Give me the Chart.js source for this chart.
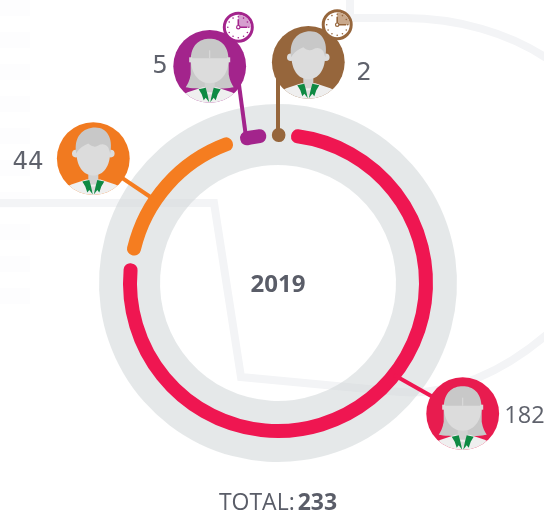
<!DOCTYPE html>
<html><head><meta charset="utf-8">
<script src="https://cdn.jsdelivr.net/npm/chart.js@4"></script>
<style>
html,body{margin:0;padding:0;background:#fff;width:544px;height:512px;overflow:hidden}
#wrap{position:relative;width:544px;height:512px;font-family:"Open Sans",sans-serif;color:#5a5d68}
canvas{position:absolute;left:0;top:0}
.t{position:absolute;transform:translate(-50%,-50%);white-space:nowrap;line-height:1}
.n{font-size:24.5px;font-weight:400;font-family:"DejaVu Sans",sans-serif;color:#5f626c}
b{font-weight:700}
</style></head><body>
<div id="wrap"><canvas id="c" width="544" height="512"></canvas></div>
<script>
// ---- data ----
const categories = ["Women (on time)", "Men", "Women (part time)", "Men (part time)"];
const seriesValues = [182, 44, 5, 2];
const centerLabel = "2019";
const totalLabel = "TOTAL:";
// ---- styling ----
const sliceColors = ["#EF1651", "#F57D20", "#A3248C", "#96663C"];
const sweepShifts = [-5.5, -3.5, 5.6, 3.4];   // degrees: small slices widened so they stay visible
const leaderAngles = [128.4, 304, 347.6, 0];
const avatars = [
  {x:462.7,y:413.7,hair:"long",fill:"#E81C4F"},
  {x:93.3,y:158.6,hair:"short",fill:"#F17A20"},
  {x:209.7,y:66.3,hair:"long",fill:"#A3248C",clock:{x:238.3,y:27.2,tint:"#D69FCF"}},
  {x:308.3,y:62.3,hair:"short",fill:"#96663C",clock:{x:337.2,y:24.7,tint:"#C9A98C"}}
];
const labelSpots = [[524.5,415],[28,161],[160,65],[364,72]];
const sliceTrim = 4.1;

const D2R = Math.PI/180;
class RingController extends Chart.DoughnutController {
  static id = "ring";
  calculateCircumference(v){
    const a = super.calculateCircumference(v);
    const ds = this.getDataset();
    if (!ds.shifted) return a;
    return a + sweepShifts[ds.data.indexOf(Math.round(v))]*D2R;
  }
  updateElement(arc,i,props,mode){
    const ds = this.getDataset();
    props.outerRadius = ds.ringOuter; props.innerRadius = ds.ringInner;
    if (ds.shifted){
      const slot = props.endAngle - props.startAngle, mid = props.startAngle + slot/2;
      const core = Math.max(slot - 2*sliceTrim*D2R, 0.2*D2R);
      props.startAngle = mid - core/2; props.endAngle = mid + core/2; props.circumference = core;
    }
    super.updateElement(arc,i,props,mode);
  }
}
Chart.register(RingController);

function watermark(ctx){
  ctx.save();
  ctx.fillStyle="#FDFDFE";
  for(let y=0;y<300;y+=32){ctx.fillRect(0,y,30,16);}
  ctx.strokeStyle="#F3F4F6";ctx.lineWidth=8;ctx.lineJoin="miter";
  ctx.beginPath();ctx.moveTo(0,203);ctx.lineTo(214,203);ctx.lineTo(241,377);ctx.lineTo(400,392);
  ctx.bezierCurveTo(450,396,505,372,552,330);ctx.stroke();
  ctx.beginPath();ctx.moveTo(350,0);ctx.lineTo(350,18);ctx.lineTo(405,18);
  ctx.bezierCurveTo(455,18,510,32,552,62);ctx.stroke();
  ctx.restore();
}
function poly(ctx,pts){ctx.beginPath();pts.forEach((p,i)=>i?ctx.lineTo(p[0],p[1]):ctx.moveTo(p[0],p[1]));ctx.closePath();ctx.fill();}
function drawAvatar(ctx,a){
  ctx.save();ctx.translate(a.x,a.y);
  ctx.beginPath();ctx.arc(0,0,36.4,0,7);ctx.fillStyle=a.fill;ctx.fill();ctx.clip();
  const hairC="#C8C8C8",face="#DCDCDC";
  if(a.hair==="long"){
    ctx.fillStyle=hairC;ctx.beginPath();ctx.moveTo(-19,-5);
    ctx.bezierCurveTo(-19,-22,-10,-27.5,0,-27.5);ctx.bezierCurveTo(10,-27.5,19,-22,19,-5);
    ctx.lineTo(19,8);ctx.bezierCurveTo(20,14,22,18,24,21);ctx.bezierCurveTo(15,23,-15,23,-24,21);
    ctx.bezierCurveTo(-22,18,-20,14,-19,8);ctx.closePath();ctx.fill();
  }
  ctx.fillStyle="#EFEFEF";
  poly(ctx,[[-38,37],[-38,34],[-22,26],[-7,21],[7,21],[22,26],[38,34],[38,37]]);
  ctx.fillStyle="#D2D2D2";ctx.fillRect(-5,12,10,14);
  ctx.fillStyle=face;
  ctx.beginPath();ctx.arc(0,28,5,0,Math.PI);ctx.fill();
  if(a.hair==="long"){
    ctx.beginPath();ctx.moveTo(-19,-8);ctx.lineTo(19,-8);ctx.bezierCurveTo(19,6,12,17,0,17);ctx.bezierCurveTo(-12,17,-19,6,-19,-8);ctx.fill();
    ctx.fillRect(-20.5,-9,3,5);ctx.fillRect(17.5,-9,3,5);
    ctx.fillRect(-0.5,-16,1,8);
  } else {
    ctx.beginPath();ctx.arc(-17.5,-5,3.8,0,7);ctx.arc(17.5,-5,3.8,0,7);ctx.fill();
    ctx.beginPath();ctx.moveTo(-17,-8);ctx.bezierCurveTo(-17,-22,17,-22,17,-8);ctx.bezierCurveTo(17,8,10,17,0,17);ctx.bezierCurveTo(-10,17,-17,8,-17,-8);ctx.fill();
    ctx.fillStyle=hairC;ctx.beginPath();ctx.moveTo(-17,-5);
    ctx.bezierCurveTo(-20,-22,-10,-31,2,-31);ctx.bezierCurveTo(14,-31,20,-20,17,-5);
    ctx.lineTo(15,-11);ctx.bezierCurveTo(12,-15,8,-15,5,-13);ctx.bezierCurveTo(2,-11,-2,-12,-5,-15);ctx.bezierCurveTo(-9,-13,-14,-11,-17,-5);
    ctx.closePath();ctx.fill();
  }
  ctx.fillStyle="#0E8A43";
  poly(ctx,[[-11,23],[-4,21.5],[-2.5,27],[-0.5,36],[-4,31.5],[-6,34],[-8,28]]);
  poly(ctx,[[11,23],[4,21.5],[2.5,27],[0.5,36],[4,31.5],[6,34],[8,28]]);
  ctx.restore();
  if(a.clock) drawClock(ctx,a.clock,a.fill);
}
function drawClock(ctx,k,col){
  ctx.save();ctx.translate(k.x,k.y);
  ctx.beginPath();ctx.arc(0,0,14,0,7);ctx.fillStyle="#fff";ctx.fill();
  ctx.lineWidth=3;ctx.strokeStyle=col;ctx.stroke();
  ctx.fillStyle=k.tint;ctx.beginPath();ctx.moveTo(0,0);ctx.arc(0,0,12.5,-Math.PI/2,0);ctx.closePath();ctx.fill();
  ctx.fillStyle=col;
  for(let h=0;h<12;h++){const t=h*30*D2R;ctx.beginPath();ctx.arc(Math.sin(t)*10.5,-Math.cos(t)*10.5,0.8,0,7);ctx.fill();}
  ctx.strokeStyle=col;ctx.lineWidth=1.6;ctx.lineCap="butt";
  ctx.beginPath();ctx.moveTo(0,-8);ctx.lineTo(0,0);ctx.lineTo(9,0);ctx.stroke();
  ctx.beginPath();ctx.arc(0,0,1.7,0,7);ctx.fillStyle="#fff";ctx.fill();ctx.lineWidth=1.2;ctx.stroke();
  ctx.restore();
}
const decorations = {
  id:"decor",
  beforeDatasetsDraw(chart){ watermark(chart.ctx); },
  afterDatasetsDraw(chart){
    const ctx=chart.ctx, arcs=chart.getDatasetMeta(0).data;
    arcs.forEach((arc,i)=>{
      const r=(arc.innerRadius+arc.outerRadius)/2, t=leaderAngles[i]*D2R, a=avatars[i];
      ctx.save();ctx.strokeStyle=sliceColors[i];ctx.lineWidth=4;
      ctx.beginPath();ctx.moveTo(arc.x+Math.sin(t)*r,arc.y-Math.cos(t)*r);ctx.lineTo(a.x+(i==3?-30.3:i==2?26:0),a.y+(i==3?12:i==2?-6:0));ctx.stroke();ctx.restore();
    });
    avatars.forEach(a=>drawAvatar(ctx,a));
  }
};
new Chart(document.getElementById("c"),{
  type:"ring",
  data:{labels:categories,datasets:[
    {label:"2019",data:seriesValues,shifted:true,ringOuter:148.5,ringInner:147.5,
     backgroundColor:sliceColors,borderColor:sliceColors,borderWidth:13,borderJoinStyle:"round"},
    {label:"ring",data:[seriesValues.reduce((s,v)=>s+v,0)],ringOuter:179,ringInner:118,
     backgroundColor:"rgba(207,213,215,0.55)",borderWidth:0}
  ]},
  options:{responsive:false,animation:false,events:[],rotation:3.5,
    layout:{padding:{left:12,top:54,right:0,bottom:0}},
    plugins:{legend:{display:false},tooltip:{enabled:false}}},
  plugins:[decorations]
});
const wrap=document.getElementById("wrap");
function addText(html,x,y,cls,extra){const d=document.createElement("div");d.className="t "+cls;d.innerHTML=html;d.style.left=x+"px";d.style.top=y+"px";if(extra)d.style.cssText+=extra;wrap.appendChild(d);}
seriesValues.forEach((v,i)=>addText(String(v),labelSpots[i][0],labelSpots[i][1],"n",v>99?'font-family:"Open Sans",sans-serif;font-size:23.5px':""));
addText("<b>"+centerLabel+"</b>",278,283,"","font-size:24px");
addText(totalLabel+" <b>"+seriesValues.reduce((s,v)=>s+v,0)+"</b>",278,501,"","font-size:23px;word-spacing:-3px");
</script>
</body></html>
